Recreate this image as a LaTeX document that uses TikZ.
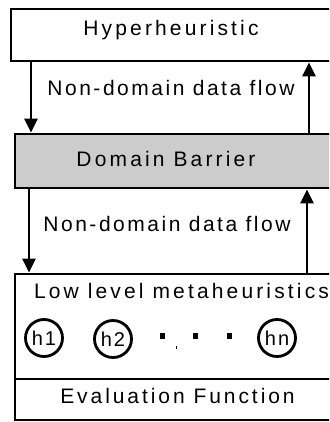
\documentclass[tikz,border=0pt]{standalone}
\usepackage{fontspec}
\setmainfont{Liberation Sans}[LetterSpace=15]
\usetikzlibrary{arrows.meta}
\newcommand{\ls}[1]{\addfontfeature{LetterSpace=#1}}
\begin{document}
\begin{tikzpicture}[x=1pt,y=-1pt,
  box/.style={draw,line width=2.8pt,rectangle,inner sep=0pt},
  lbl/.style={anchor=base,font=\fontsize{21}{23}\selectfont,inner sep=0pt},
  hcirc/.style={draw,line width=2.8pt,circle,minimum size=37pt,inner sep=0pt,font=\fontsize{20}{22}\selectfont},
  arr/.style={line width=2.8pt,-{Triangle[width=13pt,length=14pt]}},
  sqdot/.style={fill=black,minimum size=5.5pt,inner sep=0pt,rectangle}]
\useasboundingbox (0,0) rectangle (329,422);
\clip (0,0) rectangle (329,422);
% boxes
\node[box,minimum width=334pt,minimum height=52pt] (top) at (178,35) {};
\node[box,fill=black!20,minimum width=330pt,minimum height=54pt] (mid) at (180,161) {};
\node[box,minimum width=330pt,minimum height=146pt] (bot) at (180,347) {};
\coordinate (dl) at (15,379);
\coordinate (dr) at (345,379);
\draw[line width=2.8pt] (dl) -- (dr);
% texts
\node[lbl] (t1) at (171,36) {\ls{15}Hyperheuristic};
\node[lbl] (t2) at (171,96) {\ls{12}Non-domain data flow};
\node[lbl] (t3) at (166,166) {\ls{15}Domain Barrier};
\node[lbl] (t4) at (167,231) {\ls{12}Non-domain data flow};
\node[lbl] (t5) at (181.5,298) {\ls{15}Low level metaheuristics};
\node[lbl] (t6) at (177.5,403) {\ls{14}Evaluation Function};
% arrows
\draw[arr] (31,0 |- top.south) -- (31,0 |- mid.north);
\draw[arr] (309,0 |- mid.north) -- (309,0 |- top.south);
\draw[arr] (29,0 |- mid.south) -- (29,0 |- bot.north);
\draw[arr] (307,0 |- bot.north) -- (307,0 |- mid.south);
% heuristics
\node[hcirc] (h1) at (44,338) {\ls{10}h1};
\node[hcirc] (h2) at (113,339) {\ls{10}h2};
\node[hcirc] (hn) at (277,338) {\ls{10}hn};
\node[sqdot] (d1) at (162.5,336) {};
\node[sqdot] (d2) at (195.5,336) {};
\node[sqdot] (d3) at (229.5,336) {};
\node[fill=black,minimum width=1pt,minimum height=3pt,inner sep=0pt] (d0) at (176,347) {};
\end{tikzpicture}
\end{document}
